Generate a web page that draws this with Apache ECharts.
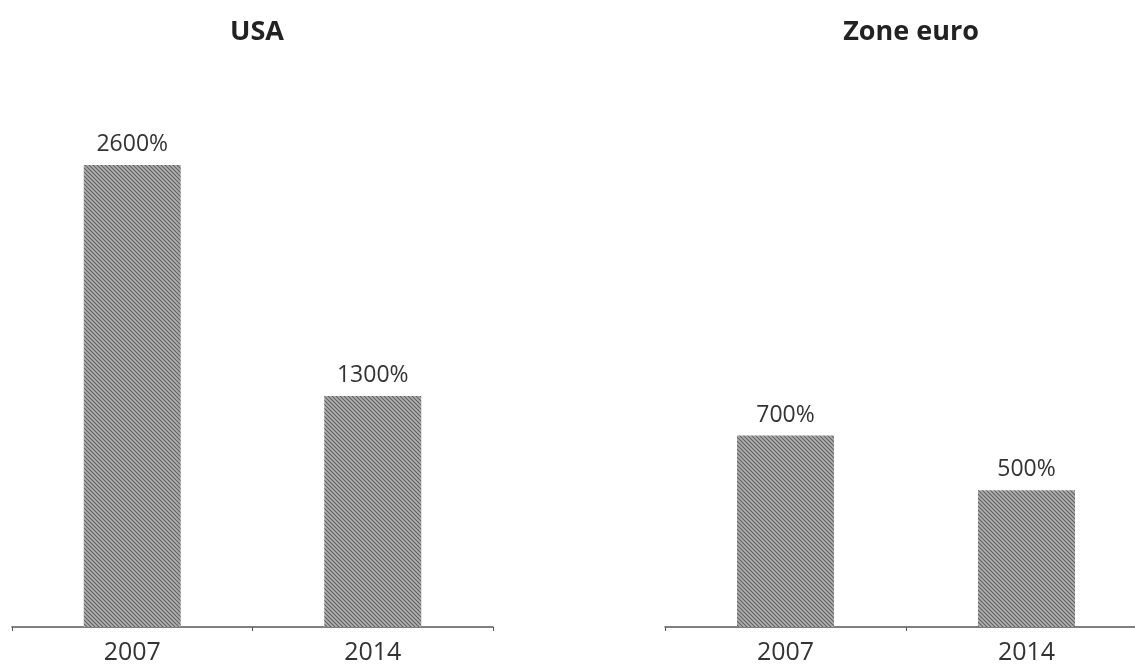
<!DOCTYPE html>
<html>
<head>
<meta charset="utf-8">
<script src="https://cdn.jsdelivr.net/npm/echarts@6/dist/echarts.min.js"></script>
<style>
  html, body { margin: 0; padding: 0; background: #fff; }
  #chart { width: 1135px; height: 669px; }
</style>
</head>
<body>
<div id="chart"></div>
<script>
// données
const years = ['2007', '2014'];
const usaValues = [2600, 1300];
const euroValues = [700, 500];
const panelTitles = ['USA', 'Zone euro'];

// motif hachuré gris (diagonales)
function hatch() {
    const c = document.createElement('canvas');
    c.width = 4; c.height = 4;
    const ctx = c.getContext('2d');
    ctx.fillStyle = '#b0b0b0';
    ctx.fillRect(0, 0, 4, 4);
    ctx.strokeStyle = '#606060';
    ctx.lineWidth = 1.1;
    ctx.beginPath();
    ctx.moveTo(-1, -1); ctx.lineTo(5, 5);
    ctx.moveTo(-1, 3); ctx.lineTo(1, 5);
    ctx.moveTo(3, -1); ctx.lineTo(5, 1);
    ctx.stroke();
    return c;
}
const pattern = { image: hatch(), repeat: 'repeat' };
const font = '"Open Sans", "Noto Sans", sans-serif';

function xAxis(idx) {
    return {
        type: 'category',
        gridIndex: idx,
        data: years,
        axisLine: { lineStyle: { color: '#555', width: 1.5 } },
        axisTick: { show: true, length: 4, inside: false, lineStyle: { color: '#555' } },
        axisLabel: { color: '#333', fontSize: 25, fontFamily: font, margin: 13 }
    };
}
function yAxis(idx, max) {
    return {
        type: 'value', gridIndex: idx, min: 0, max: max,
        show: false, splitLine: { show: false }
    };
}
function bars(idx, data) {
    return {
        type: 'bar',
        xAxisIndex: idx, yAxisIndex: idx,
        data: data,
        barWidth: 97,
        itemStyle: { color: pattern },
        label: {
            show: true, position: 'top', distance: 9,
            formatter: '{c}%', color: '#333', fontSize: 23, fontFamily: font
        },
        animation: false
    };
}

const chart = echarts.init(document.getElementById('chart'));
chart.setOption({
    animation: false,
    title: [
        { text: panelTitles[0], left: 252, top: 14, textAlign: 'center',
          textStyle: { fontSize: 27, fontWeight: 'bold', color: '#222', fontFamily: font } },
        { text: panelTitles[1], left: 906, top: 14, textAlign: 'center',
          textStyle: { fontSize: 27, fontWeight: 'bold', color: '#222', fontFamily: font } }
    ],
    grid: [
        { left: 12, width: 481, top: 94, height: 533, outerBoundsMode: 'none' },
        { left: 665, width: 482, top: 80, height: 547, outerBoundsMode: 'none' }
    ],
    xAxis: [xAxis(0), xAxis(1)],
    yAxis: [yAxis(0, 3000), yAxis(1, 2000)],
    series: [bars(0, usaValues), bars(1, euroValues)]
});
</script>
</body>
</html>
